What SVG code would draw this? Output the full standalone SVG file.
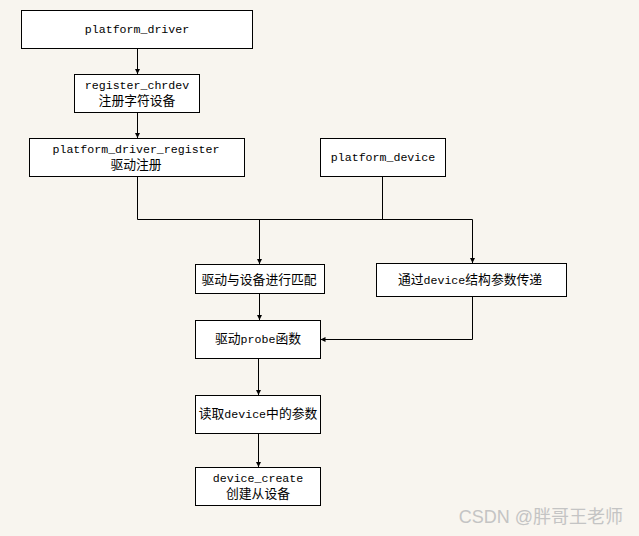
<svg xmlns="http://www.w3.org/2000/svg" width="639" height="536" viewBox="0 0 639 536">
<defs>
<marker id="ah" markerUnits="userSpaceOnUse" markerWidth="6" markerHeight="6" refX="5" refY="3" orient="auto">
<path d="M0,0.5 L5,3 L0,5.5 z" fill="#000"/>
</marker>
<style>
.box{fill:#fff;stroke:#000;stroke-width:1}
.t{font-family:"Liberation Mono","Noto Sans CJK SC",monospace;font-size:11.6px;fill:#000;text-anchor:middle}
.c{font-family:"Noto Sans CJK SC",sans-serif;font-size:12.8px}
.ln{fill:none;stroke:#000;stroke-width:1}
.ar{fill:none;stroke:#000;stroke-width:1;marker-end:url(#ah)}
</style>
</defs>
<rect width="639" height="536" fill="#f8f5ef"/>
<g id="connectors">
<path class="ar" d="M137.5,48 V74"/>
<path class="ar" d="M137.5,112 V138"/>
<path class="ln" d="M137.5,176 V219.5 H472.5"/>
<path class="ln" d="M382.5,176 V219.5"/>
<path class="ar" d="M259.5,219.5 V264"/>
<path class="ar" d="M472.5,219.5 V263"/>
<path class="ar" d="M259.5,293 V320"/>
<path class="ar" d="M472.5,296 V339.5 H320.5"/>
<path class="ar" d="M258.5,358 V395"/>
<path class="ar" d="M258.5,433 V467"/>
</g>
<g id="n_platform_driver">
<rect class="box" x="21.5" y="10.5" width="231" height="38"/>
<text class="t" x="137" y="33">platform_driver</text>
</g>
<g id="n_register_chrdev">
<rect class="box" x="74.5" y="74.5" width="125" height="38"/>
<text class="t" x="137" y="88.5">register_chrdev</text>
<text class="t" x="137" y="105"><tspan class="c">注册字符设备</tspan></text>
</g>
<g id="n_platform_driver_register">
<rect class="box" x="29.5" y="138.5" width="215" height="38"/>
<text class="t" x="136" y="152.5">platform_driver_register</text>
<text class="t" x="136" y="169"><tspan class="c">驱动注册</tspan></text>
</g>
<g id="n_platform_device">
<rect class="box" x="320.5" y="138.5" width="125" height="38"/>
<text class="t" x="383" y="161">platform_device</text>
</g>
<g id="n_match">
<rect class="box" x="195.5" y="264.5" width="129" height="29"/>
<text class="t" x="259" y="284"><tspan class="c">驱动与设备进行匹配</tspan></text>
</g>
<g id="n_pass">
<rect class="box" x="376.5" y="263.5" width="190" height="33"/>
<text class="t" x="470" y="284"><tspan class="c">通过</tspan>device<tspan class="c">结构参数传递</tspan></text>
</g>
<g id="n_probe">
<rect class="box" x="195.5" y="320.5" width="125" height="38"/>
<text class="t" x="258" y="343"><tspan class="c">驱动</tspan>probe<tspan class="c">函数</tspan></text>
</g>
<g id="n_read">
<rect class="box" x="195.5" y="395.5" width="125" height="38"/>
<text class="t" x="258" y="418"><tspan class="c">读取</tspan>device<tspan class="c">中的参数</tspan></text>
</g>
<g id="n_create">
<rect class="box" x="195.5" y="467.5" width="125" height="38"/>
<text class="t" x="258" y="481.5">device_create</text>
<text class="t" x="258" y="498"><tspan class="c">创建从设备</tspan></text>
</g>
<text x="623" y="523" font-family="Liberation Sans,Noto Sans CJK SC,sans-serif" font-size="18" fill="#c4c4c4" text-anchor="end">CSDN @胖哥王老师</text>
</svg>
